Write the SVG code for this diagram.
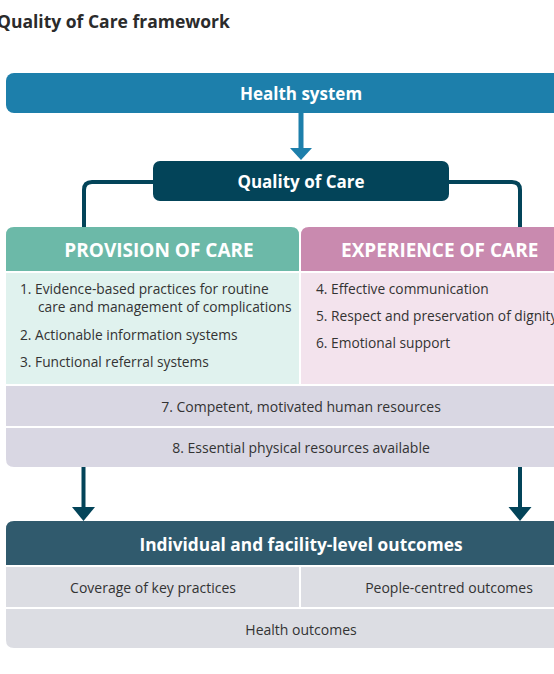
<svg xmlns="http://www.w3.org/2000/svg" width="554" height="674" viewBox="0 0 554 674">
<style>
.t{font-family:"Open Sans","Noto Sans",sans-serif;font-size:14px;fill:#333}
.s{font-size:13.75px}
.b{font-family:"Open Sans","Noto Sans",sans-serif;font-weight:bold;fill:#fff}
.c{text-anchor:middle}
</style>
<rect width="554" height="674" fill="#fff"/>
<text x="-3" y="28" style="font-family:'Open Sans','Noto Sans',sans-serif;font-weight:bold;font-size:17.5px;fill:#2b2b2b">Quality of Care framework</text>
<g id="connectors">
<line x1="301" y1="113" x2="301" y2="149" stroke="#1d7fab" stroke-width="5"/>
<polygon points="290,148 312,148 301,160" fill="#1d7fab"/>
<path d="M153,182 H92 Q84,182 84,190 V227" fill="none" stroke="#034459" stroke-width="4"/>
<path d="M449,182 H512 Q520,182 520,190 V227" fill="none" stroke="#034459" stroke-width="4"/>
<g stroke="#fff" stroke-width="3" fill="none" stroke-linecap="round" stroke-linejoin="round">
<line x1="271" y1="250" x2="329" y2="250"/>
<polyline points="279,243 271,250 279,257"/>
<polyline points="321,243 329,250 321,257"/>
</g>
<line x1="83.5" y1="467" x2="83.5" y2="508" stroke="#034459" stroke-width="4"/>
<polygon points="72,507 95,507 83.5,521" fill="#034459"/>
<line x1="520" y1="467" x2="520" y2="508" stroke="#034459" stroke-width="4"/>
<polygon points="508.5,507 531.5,507 520,521" fill="#034459"/>
</g>
<g id="health-system">
<rect x="6" y="73" width="600" height="40" rx="8" fill="#1d7fab"/>
<text class="b c" x="301" y="100" font-size="17">Health system</text>
</g>
<g id="quality-of-care">
<rect x="153" y="161" width="296" height="40" rx="7" fill="#034459"/>
<text class="b c" x="301" y="188" font-size="17">Quality of Care</text>
</g>
<g id="provision">
<path d="M6,271 V235 Q6,227 14,227 H291 Q299,227 299,235 V271 Z" fill="#6cb9a8"/>
<text class="b c" x="159" y="257" font-size="19">PROVISION OF CARE</text>
<rect x="6" y="273" width="293" height="111" fill="#e0f2ee"/>
<text class="t s" x="20" y="294">1. Evidence-based practices for routine</text>
<text class="t s" x="38" y="312">care and management of complications</text>
<text class="t s" x="20" y="340">2. Actionable information systems</text>
<text class="t s" x="20" y="367">3. Functional referral systems</text>
</g>
<g id="experience">
<path d="M301,271 V235 Q301,227 309,227 H606 V271 Z" fill="#c98aaf"/>
<text class="b" x="341" y="257" font-size="19">EXPERIENCE OF CARE</text>
<rect x="301" y="273" width="305" height="111" fill="#f3e3ed"/>
<text class="t s" x="316" y="294">4. Effective communication</text>
<text class="t s" x="316" y="321">5. Respect and preservation of dignity</text>
<text class="t s" x="316" y="348">6. Emotional support</text>
</g>
<g id="human-resources">
<rect x="6" y="386" width="600" height="40" fill="#d9d7e3"/>
<text class="t c" x="301" y="412">7. Competent, motivated human resources</text>
</g>
<g id="physical-resources">
<path d="M6,428 H606 V467 H14 Q6,467 6,459 Z" fill="#d9d7e3"/>
<text class="t c" x="301" y="453">8. Essential physical resources available</text>
</g>
<g id="outcomes">
<path d="M6,565 V529 Q6,521 14,521 H606 V565 Z" fill="#305a6d"/>
<text class="b c" x="301" y="551" font-size="17.3">Individual and facility-level outcomes</text>
</g>
<g id="coverage">
<rect x="6" y="567" width="293" height="40" fill="#dcdde3"/>
<text class="t c" x="153" y="593">Coverage of key practices</text>
</g>
<g id="people-centred">
<rect x="301" y="567" width="305" height="40" fill="#dcdde3"/>
<text class="t c" x="449" y="593">People-centred outcomes</text>
</g>
<g id="health-outcomes">
<path d="M6,609 H606 V648 H14 Q6,648 6,640 Z" fill="#dcdde3"/>
<text class="t c" x="301" y="635">Health outcomes</text>
</g>
</svg>
